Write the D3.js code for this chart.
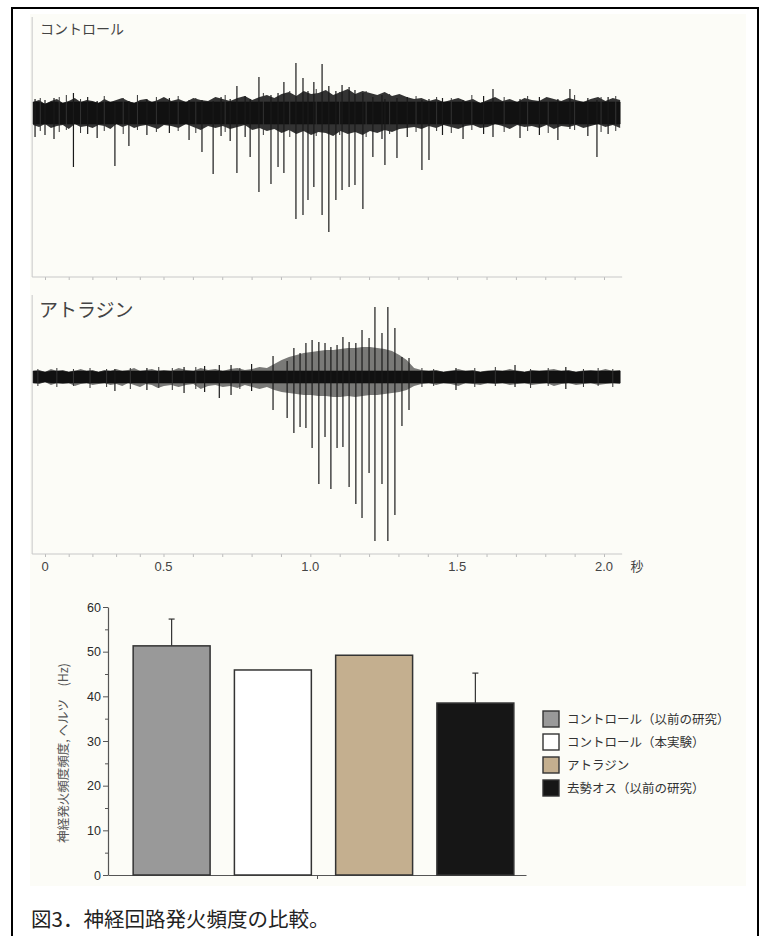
<!DOCTYPE html>
<html>
<head>
<meta charset="utf-8">
<script src="https://cdnjs.cloudflare.com/ajax/libs/d3/7.8.5/d3.min.js"></script>
<style>
html, body { margin: 0; padding: 0; background: #fff; }
svg { display: block; }
.jp { font-family: "Noto Sans CJK JP", "Noto Sans", sans-serif; }
.num { font-family: "Liberation Sans", Arial, sans-serif; }
</style>
</head>
<body>
<div id="chart"></div>
<script>
// ---- recording traces (amplitude in arbitrary units, 0 = baseline) ----
// noise band edges, sampled on a regular grid from -0.05 s to 2.055 s
var ctrlBandHi = [
  11, 13, 9, 12, 14, 10, 12, 15, 11, 13,
  12, 10, 14, 11, 13, 15, 12, 10, 13, 14,
  11, 13, 16, 12, 14, 11, 15, 13, 12, 16,
  14, 12, 15, 17, 13, 16, 18, 15, 19, 21,
  17, 22, 19, 20, 23, 18, 21, 24, 19, 22,
  20, 18, 21, 17, 19, 16, 14, 15, 12, 14,
  11, 13, 15, 12, 14, 10, 13, 16, 12, 14,
  11, 15, 13, 12, 16, 14, 12, 15, 13, 11,
  14, 16, 12, 15, 13
];
var ctrlBandLo = [
  -12, -14, -11, -15, -13, -12, -16, -11, -14, -13,
  -15, -12, -13, -16, -11, -14, -12, -15, -13, -12,
  -14, -16, -12, -13, -15, -11, -14, -17, -13, -15,
  -13, -16, -14, -12, -17, -15, -18, -16, -20, -17,
  -21, -18, -22, -19, -20, -23, -18, -21, -19, -22,
  -18, -20, -17, -19, -16, -15, -14, -16, -13, -15,
  -12, -14, -16, -13, -12, -15, -14, -11, -13, -16,
  -12, -14, -13, -15, -12, -16, -13, -14, -12, -15,
  -13, -11, -14, -12, -15
];
// spikes: [time s, lowest, highest]
var ctrlSpikes = [
  [-0.042, -24, 14], [0.000, -22, 13], [0.038, -26, 15], [0.120, -54, 20],
  [0.180, -21, 16], [0.220, -25, 12], [0.295, -53, 10], [0.354, -33, 12],
  [0.430, -22, 14], [0.520, -20, 15], [0.587, -27, 13], [0.631, -39, 13],
  [0.669, -61, 12], [0.696, -23, 16], [0.727, -28, 14], [0.750, -60, 27],
  [0.778, -24, 17], [0.795, -44, 14], [0.825, -79, 36], [0.866, -71, 18],
  [0.890, -54, 20], [0.910, -60, 31], [0.951, -106, 50], [0.975, -102, 35],
  [0.992, -87, 22], [1.012, -74, 31], [1.040, -102, 49], [1.063, -119, 27],
  [1.087, -87, 22], [1.108, -77, 28], [1.132, -74, 26], [1.152, -72, 23],
  [1.179, -96, 20], [1.213, -44, 16], [1.244, -26, 18], [1.254, -52, 14],
  [1.295, -45, 15], [1.330, -24, 16], [1.380, -57, 13], [1.404, -47, 14],
  [1.450, -22, 15], [1.520, -26, 13], [1.590, -21, 17], [1.622, -24, 24],
  [1.714, -25, 14], [1.780, -22, 16], [1.843, -27, 14], [1.884, -16, 24],
  [1.945, -23, 15], [1.976, -44, 13], [2.014, -21, 16]
];
// small noise hairs sticking out of the band
var ctrlHairs = [
  [-0.02, -18, 15], [0.06, -19, 16], [0.09, -17, 18], [0.15, -20, 14],
  [0.25, -18, 17], [0.33, -21, 15], [0.39, -17, 18], [0.47, -19, 16],
  [0.55, -18, 17], [0.61, -20, 15], [0.71, -19, 18], [0.84, -22, 20],
  [0.93, -24, 22], [1.02, -23, 24], [1.10, -22, 21], [1.19, -24, 22],
  [1.27, -21, 19], [1.36, -19, 17], [1.43, -18, 16], [1.48, -20, 15],
  [1.55, -17, 18], [1.66, -19, 16], [1.74, -18, 17], [1.81, -20, 15],
  [1.90, -17, 18], [1.99, -19, 16], [2.04, -18, 17]
];

var atrBandHi = [
  6, 7, 5, 8, 6, 7, 5, 6, 8, 6,
  7, 5, 7, 6, 8, 6, 7, 9, 6, 7,
  8, 6, 7, 6, 9, 7, 6, 9, 7, 8,
  6, 8, 9, 7, 8, 10, 9, 13, 17, 20,
  22, 24, 25, 26, 27, 27, 28, 29, 29, 30,
  30, 29, 28, 26, 22, 17, 9, 7, 6, 7,
  5, 6, 8, 6, 7, 5, 6, 7, 6, 8,
  6, 5, 7, 6, 7, 8, 6, 7, 5, 6,
  7, 6, 8, 6, 7
];
var atrBandLo = [
  -6, -7, -5, -8, -6, -7, -6, -9, -7, -6,
  -8, -7, -6, -8, -7, -9, -6, -8, -10, -7,
  -8, -11, -9, -8, -10, -8, -7, -12, -9, -8,
  -10, -9, -11, -8, -10, -12, -10, -13, -15, -16,
  -17, -18, -18, -19, -19, -20, -20, -19, -20, -19,
  -18, -18, -17, -16, -15, -13, -9, -7, -6, -8,
  -6, -7, -9, -6, -7, -8, -6, -7, -6, -8,
  -7, -6, -8, -7, -6, -9, -7, -6, -8, -7,
  -6, -8, -7, -6, -7
];
var atrSpikes = [
  [0.295, -14, 8], [0.430, -13, 9], [0.570, -16, 10], [0.640, -15, 11],
  [0.690, -21, 12], [0.730, -18, 12], [0.800, -14, 13], [0.873, -33, 21],
  [0.921, -41, 16], [0.944, -56, 29], [0.965, -50, 24], [0.985, -51, 34],
  [1.006, -71, 37], [1.029, -107, 35], [1.050, -60, 34], [1.070, -112, 30],
  [1.091, -71, 32], [1.111, -70, 40], [1.132, -110, 35], [1.155, -127, 34],
  [1.176, -141, 47], [1.200, -96, 39], [1.220, -164, 70], [1.244, -107, 44],
  [1.264, -164, 70], [1.288, -138, 49], [1.312, -49, 20], [1.336, -33, 19],
  [1.496, -13, 9], [1.697, -10, 12], [1.870, -12, 10]
];
var atrHairs = [
  [-0.03, -9, 8], [0.05, -10, 9], [0.12, -9, 8], [0.19, -11, 9],
  [0.26, -10, 8], [0.36, -12, 9], [0.48, -11, 10], [0.53, -13, 9],
  [0.61, -12, 10], [0.76, -12, 9], [1.38, -10, 9], [1.42, -9, 8],
  [1.56, -10, 9], [1.63, -9, 10], [1.75, -11, 8], [1.81, -9, 9],
  [1.93, -10, 8], [1.98, -9, 9], [2.03, -10, 8]
];
var timeTicks = [0, 0.5, 1.0, 1.5, 2.0];

// ---- bar chart ----
var groups = ["コントロール（以前の研究）", "コントロール（本実験）", "アトラジン", "去勢オス（以前の研究）"];
var rates = [51.3, 45.9, 49.2, 38.5];
var rateErr = [6.0, 0, 0, 6.7];
var rateTicks = [0, 10, 20, 30, 40, 50, 60];

var barColors = ["#999999", "#ffffff", "#c4af8f", "#161616"];

var W = 766, H = 936;
var svg = d3.select("#chart").append("svg")
    .attr("width", W)
    .attr("height", H);

// paper
svg.append("rect").attr("x", 30).attr("y", 14).attr("width", 716).attr("height", 872).attr("fill", "#fcfcf7");
svg.append("rect")
    .attr("x", 12).attr("y", 8).attr("width", 746).attr("height", 960)
    .attr("fill", "none").attr("stroke", "#000").attr("stroke-width", 2);

// time scale (the figure's own labelled axis)
var tStart = -0.05, tEnd = 2.055;
var x = d3.scaleLinear().domain([0, 0.5, 2.0]).range([45, 163.5, 604]);

function drawTrace(cfg) {
    var y = d3.scaleLinear().domain(cfg.yDomain).range([cfg.bottom, cfg.top]);
    var g = svg.append("g");
    var step = (tEnd - tStart) / (cfg.hi.length - 1);
    var band = cfg.hi.map(function (v, i) {
        return { t: tStart + i * step, hi: v, lo: cfg.lo[i] };
    });

    // axes
    g.append("line")
        .attr("x1", x(tStart) - 1).attr("x2", x(tStart) - 1)
        .attr("y1", cfg.top).attr("y2", cfg.bottom)
        .attr("stroke", "#c8c8c8").attr("stroke-width", 1);
    var xAxis = d3.axisBottom(x)
        .tickValues(d3.range(0, 21).map(function (i) { return i / 10; }))
        .tickSize(3).tickFormat("");
    g.append("g")
        .attr("transform", "translate(0," + cfg.bottom + ")")
        .call(function (a) {
            a.call(xAxis);
            a.select(".domain").remove();
            a.selectAll(".tick line").attr("stroke", "#bbb");
        });
    g.append("line")
        .attr("x1", x(tStart) - 1).attr("x2", x(tEnd) + 2)
        .attr("y1", cfg.bottom).attr("y2", cfg.bottom)
        .attr("stroke", "#c8c8c8").attr("stroke-width", 1);

    if (cfg.showLabels) {
        g.selectAll(".tlab")
            .data(timeTicks)
            .enter().append("text")
            .attr("class", "num")
            .attr("x", function (d) { return x(d); })
            .attr("y", cfg.bottom + 17)
            .attr("text-anchor", "middle")
            .attr("font-size", 13)
            .attr("fill", "#444")
            .text(function (d) { return d === 0 ? "0" : d3.format(".1f")(d); });
        g.append("text")
            .attr("class", "jp")
            .attr("x", x(2.0) + 33).attr("y", cfg.bottom + 17)
            .attr("text-anchor", "middle")
            .attr("font-size", 13).attr("fill", "#444")
            .text("秒");
    }

    // noise band: fuzzy outer envelope + solid core
    var area = d3.area()
        .x(function (d) { return x(d.t); })
        .y0(function (d) { return y(d.lo); })
        .y1(function (d) { return y(d.hi); });
    var core = d3.area()
        .x(function (d) { return x(d.t); })
        .y0(function (d) { return y(Math.max(d.lo, -cfg.core)); })
        .y1(function (d) { return y(Math.min(d.hi, cfg.core)); });
    g.append("path")
        .datum(band)
        .attr("d", area)
        .attr("fill", "#222")
        .attr("fill-opacity", cfg.outerOpacity);
    g.append("path")
        .datum(band)
        .attr("d", core)
        .attr("fill", "#111")
        .attr("stroke", "#111")
        .attr("stroke-width", 0.6);

    g.selectAll(".hair")
        .data(cfg.hairs)
        .enter().append("line")
        .attr("x1", function (d) { return x(d[0]); })
        .attr("x2", function (d) { return x(d[0]); })
        .attr("y1", function (d) { return y(d[1]); })
        .attr("y2", function (d) { return y(d[2]); })
        .attr("stroke", "#333")
        .attr("stroke-width", 1);

    // spikes
    g.selectAll(".spike")
        .data(cfg.spikes)
        .enter().append("line")
        .attr("x1", function (d) { return x(d[0]); })
        .attr("x2", function (d) { return x(d[0]); })
        .attr("y1", function (d) { return y(d[1]); })
        .attr("y2", function (d) { return y(d[2]); })
        .attr("stroke", "#1a1a1a")
        .attr("stroke-width", 1.2);

    g.append("text")
        .attr("class", "jp")
        .attr("x", cfg.labelX).attr("y", cfg.labelY)
        .attr("font-size", cfg.labelSize)
        .attr("fill", "#444")
        .text(cfg.label);
}

drawTrace({ top: 17, bottom: 277, yDomain: [-164, 96], hi: ctrlBandHi, lo: ctrlBandLo,
    spikes: ctrlSpikes, hairs: ctrlHairs, core: 11, outerOpacity: 0.92,
    label: "コントロール", labelX: 40, labelY: 34, labelSize: 14, showLabels: false });
drawTrace({ top: 295, bottom: 554, yDomain: [-177, 82], hi: atrBandHi, lo: atrBandLo,
    spikes: atrSpikes, hairs: atrHairs, core: 6, outerOpacity: 0.6,
    label: "アトラジン", labelX: 39, labelY: 317, labelSize: 19, showLabels: true });

// ---- bar chart ----
var y0 = 875, xL = 108, xR = 526;
var yR = d3.scaleLinear().domain([0, 60]).range([y0, 607]);
var xB = d3.scaleBand().domain(groups).range([121, 526]).paddingInner(0.24).paddingOuter(0.12);

var bars = svg.append("g");
bars.append("g")
    .attr("transform", "translate(" + xL + ",0)")
    .call(function (a) {
        a.call(d3.axisLeft(yR).tickValues(d3.range(5, 60, 10)).tickSize(3).tickFormat(""));
        a.select(".domain").remove();
        a.selectAll(".tick line").attr("stroke", "#555");
    });
bars.append("g")
    .attr("transform", "translate(" + xL + ",0)")
    .call(function (a) {
        a.call(d3.axisLeft(yR).tickValues(rateTicks).tickSize(5).tickPadding(2).tickSizeOuter(0));
        a.select(".domain").attr("stroke", "#555").attr("stroke-width", 1.2);
        a.selectAll(".tick line").attr("stroke", "#555");
        a.selectAll(".tick text")
            .attr("class", "num")
            .attr("font-size", 12.5)
            .attr("fill", "#2a2a2a");
    });

var xLin = d3.scaleLinear().domain([0, 1]).range([xL, xR]);
bars.append("g")
    .attr("transform", "translate(0," + y0 + ")")
    .call(function (a) {
        a.call(d3.axisBottom(xLin).tickValues([0.5]).tickSize(4).tickFormat("").tickSizeOuter(0));
        a.select(".domain").attr("stroke", "#555").attr("stroke-width", 1.2);
        a.selectAll(".tick line").attr("stroke", "#555");
    });

bars.selectAll(".bar")
    .data(rates)
    .enter().append("rect")
    .attr("x", function (d, i) { return xB(groups[i]); })
    .attr("y", function (d) { return yR(d); })
    .attr("width", xB.bandwidth())
    .attr("height", function (d) { return y0 - yR(d); })
    .attr("fill", function (d, i) { return barColors[i]; })
    .attr("stroke", "#333")
    .attr("stroke-width", 1.5);

rates.forEach(function (v, i) {
    if (!rateErr[i]) return;
    var cx = xB(groups[i]) + xB.bandwidth() / 2;
    bars.append("line")
        .attr("x1", cx).attr("x2", cx)
        .attr("y1", yR(v)).attr("y2", yR(v + rateErr[i]))
        .attr("stroke", "#333").attr("stroke-width", 1.2);
    bars.append("line")
        .attr("x1", cx - 3).attr("x2", cx + 3)
        .attr("y1", yR(v + rateErr[i])).attr("y2", yR(v + rateErr[i]))
        .attr("stroke", "#333").attr("stroke-width", 1.2);
});

bars.append("text")
    .attr("class", "jp")
    .attr("transform", "translate(68,753) rotate(-90)")
    .attr("text-anchor", "middle")
    .attr("font-size", 12.5)
    .attr("fill", "#555")
    .text("神経発火頻度頻度, ヘルツ　(Hz)");

// legend
var legend = bars.selectAll(".leg")
    .data(groups)
    .enter().append("g")
    .attr("transform", function (d, i) { return "translate(543," + (711 + i * 23) + ")"; });
legend.append("rect")
    .attr("width", 16).attr("height", 16)
    .attr("fill", function (d, i) { return barColors[i]; })
    .attr("stroke", "#333").attr("stroke-width", 1.4);
legend.append("text")
    .attr("class", "jp")
    .attr("x", 24).attr("y", 12.5)
    .attr("font-size", 12.5)
    .attr("fill", "#333")
    .text(function (d) { return d; });

// caption
svg.append("text")
    .attr("class", "jp")
    .attr("x", 31).attr("y", 927)
    .attr("font-size", 20.5)
    .attr("fill", "#222")
    .text("図3．神経回路発火頻度の比較。");
</script>
</body>
</html>
